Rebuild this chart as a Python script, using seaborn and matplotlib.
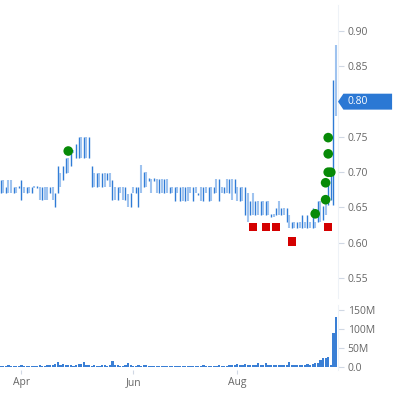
import numpy as np
import pandas as pd
import matplotlib
matplotlib.use("Agg")
import matplotlib.pyplot as plt
import matplotlib.transforms as mtransforms
from matplotlib.patches import Polygon
import seaborn as sns

# ---------------- data ----------------
lows = [0.671, 0.671, 0.671, 0.671, 0.671, 0.671, 0.671, 0.677, 0.661, 0.671,
        0.671, 0.671, 0.671, 0.677, 0.677, 0.661, 0.661, 0.661, 0.661, 0.671,
        0.661, 0.651, 0.671, 0.679, 0.689, 0.699, 0.699, 0.709, 0.727, 0.720,
        0.720, 0.720, 0.720, 0.720, 0.720, 0.679, 0.679, 0.679, 0.679, 0.679,
        0.679, 0.689, 0.679, 0.661, 0.661, 0.661, 0.671, 0.661, 0.661, 0.651,
        0.651, 0.671, 0.671, 0.651, 0.671, 0.679, 0.679, 0.688, 0.671, 0.688,
        0.671, 0.671, 0.671, 0.671, 0.671, 0.671, 0.671, 0.659, 0.671, 0.659,
        0.659, 0.659, 0.659, 0.671, 0.659, 0.671, 0.667, 0.659, 0.659, 0.671,
        0.659, 0.659, 0.671, 0.671, 0.659, 0.671, 0.671, 0.671, 0.671, 0.661,
        0.671, 0.659, 0.659, 0.659, 0.639, 0.630, 0.639, 0.639, 0.639, 0.639,
        0.639, 0.639, 0.639, 0.639, 0.637, 0.637, 0.639, 0.639, 0.639, 0.639,
        0.630, 0.621, 0.621, 0.621, 0.621, 0.621, 0.621, 0.621, 0.621, 0.621,
        0.621, 0.621, 0.630, 0.630, 0.632, 0.640, 0.654, 0.660, 0.654, 0.780]
highs = [0.689, 0.689, 0.679, 0.689, 0.689, 0.679, 0.679, 0.681, 0.689, 0.679,
         0.679, 0.679, 0.679, 0.681, 0.681, 0.679, 0.679, 0.679, 0.679, 0.679,
         0.679, 0.671, 0.709, 0.699, 0.709, 0.720, 0.720, 0.729, 0.731, 0.740,
         0.750, 0.750, 0.750, 0.750, 0.750, 0.709, 0.699, 0.699, 0.699, 0.699,
         0.699, 0.699, 0.699, 0.689, 0.679, 0.679, 0.679, 0.679, 0.679, 0.669,
         0.671, 0.679, 0.679, 0.679, 0.710, 0.700, 0.700, 0.692, 0.690, 0.692,
         0.690, 0.690, 0.690, 0.690, 0.690, 0.679, 0.679, 0.679, 0.679, 0.679,
         0.679, 0.679, 0.679, 0.679, 0.679, 0.679, 0.671, 0.679, 0.679, 0.679,
         0.679, 0.679, 0.679, 0.690, 0.690, 0.679, 0.679, 0.690, 0.690, 0.690,
         0.690, 0.679, 0.679, 0.679, 0.679, 0.671, 0.659, 0.671, 0.659, 0.659,
         0.659, 0.659, 0.659, 0.659, 0.641, 0.641, 0.649, 0.659, 0.649, 0.649,
         0.649, 0.639, 0.630, 0.630, 0.630, 0.630, 0.639, 0.630, 0.639, 0.630,
         0.649, 0.630, 0.659, 0.659, 0.652, 0.668, 0.682, 0.700, 0.830, 0.880]
up = [1, 0, 1, 0, 0, 1, 0, 1, 1, 0,
      1, 0, 1, 0, 1, 0, 1, 0, 0, 1,
      0, 1, 1, 0, 1, 1, 0, 1, 0, 1,
      1, 0, 1, 0, 1, 1, 0, 1, 0, 1,
      0, 1, 0, 1, 0, 1, 0, 0, 1, 0,
      1, 0, 1, 1, 0, 1, 0, 1, 0, 1,
      0, 1, 0, 1, 0, 1, 0, 1, 0, 1,
      0, 1, 0, 0, 1, 0, 1, 0, 1, 0,
      1, 0, 1, 0, 1, 0, 1, 0, 1, 0,
      1, 0, 1, 0, 1, 0, 1, 0, 1, 0,
      1, 0, 1, 0, 1, 0, 1, 0, 1, 0,
      1, 0, 1, 0, 1, 0, 1, 0, 1, 0,
      1, 0, 1, 0, 1, 0, 1, 1, 1, 0]
volume_m = [3, 2, 3, 4, 3, 2, 3, 3, 4, 3,
            2, 3, 3, 2, 3, 4, 3, 3, 5, 4,
            6, 9, 13, 5, 8, 6, 5, 4, 3, 5,
            7, 9, 13, 6, 4, 3, 4, 3, 3, 4,
            5, 3, 6, 15, 5, 4, 3, 3, 4, 10,
            4, 3, 3, 5, 3, 4, 4, 3, 3, 3,
            3, 2, 3, 3, 2, 3, 3, 2, 3, 3,
            2, 3, 3, 2, 3, 3, 2, 3, 4, 3,
            3, 3, 2, 3, 4, 3, 3, 3, 4, 5,
            5, 8, 5, 6, 7, 4, 5, 6, 5, 10,
            6, 5, 10, 4, 4, 5, 4, 5, 6, 4,
            5, 12, 5, 4, 4, 5, 6, 5, 7, 6,
            8, 10, 10, 18, 24, 23, 25, 6, 89, 131]
last_price = 0.80

buy_days = [26, 121, 125, 125, 126, 127, 126, 126]
buy_prices = [0.730, 0.641, 0.661, 0.685, 0.700, 0.700, 0.726, 0.749]
sell_days = [97, 102, 106, 112, 126]
sell_prices = [0.622, 0.622, 0.622, 0.602, 0.622]

month_days = [8, 51, 91]
month_labels = ["Apr", "Jun", "Aug"]
price_ticks = [0.55, 0.60, 0.65, 0.70, 0.75, 0.80, 0.85, 0.90]
vol_ticks = [0, 50, 100, 150]
vol_labels = ["0.0", "50M", "100M", "150M"]

days = np.arange(len(lows))
df = pd.DataFrame({"day": days, "low": lows, "high": highs, "up": up, "vol": volume_m})

# ---------------- styling ----------------
sns.set_theme(style="white")
plt.rcParams["font.family"] = ["Open Sans", "DejaVu Sans"]
LIGHT = "#9fc3ef"
DARK = "#2f7bd6"
TXT = "#666666"
TICKC = "#d0d8e4"

fig = plt.figure(figsize=(3.97, 3.93), dpi=100)
ax = fig.add_axes([0.0, 0.2417, 0.8514, 0.7455])
axv = fig.add_axes([0.0, 0.0585, 0.8514, 0.1654], sharex=ax)

# price bars (high-low)
cols = [DARK if u else LIGHT for u in df["up"]]
widths = [1.0 if u else 1.5 for u in df["up"]]
ax.vlines(df["day"], df["low"], df["high"], colors=cols, linewidths=widths)

sns.scatterplot(x=buy_days, y=buy_prices, ax=ax, color="#078a07", marker="o",
                s=48, edgecolor="none", zorder=5, legend=False)
sns.scatterplot(x=sell_days, y=sell_prices, ax=ax, color="#d40000", marker="s",
                s=38, edgecolor="none", zorder=5, legend=False)

ax.set_xlim(-0.25, 129.77)
ax.set_ylim(0.5216, 0.937)
ax.yaxis.tick_right()
ax.set_yticks(price_ticks)
ax.set_yticklabels([f"{v:.2f}" for v in price_ticks])
ax.tick_params(axis="y", right=True, length=4, width=0.8, color=TICKC,
               labelsize=7.5, labelcolor=TXT, pad=3)
ax.tick_params(axis="x", bottom=False, labelbottom=False)
for s in ["top", "left", "bottom"]:
    ax.spines[s].set_visible(False)
ax.spines["right"].set_color("#eef2f7")
ax.spines["right"].set_linewidth(0.8)
ax.set_xlabel("")
ax.set_ylabel("")

# last price tag
trans = mtransforms.blended_transform_factory(ax.transAxes, ax.transData)
h = 0.0113
tag = Polygon([(1.0, last_price), (1.016, last_price + h), (1.16, last_price + h),
               (1.16, last_price - h), (1.016, last_price - h)],
              closed=True, transform=trans, facecolor="#2b78d4", edgecolor="none",
              clip_on=False, zorder=6)
ax.add_patch(tag)
ax.text(1.027, last_price, f"{last_price:.2f}", transform=trans, color="white",
        fontsize=7.5, va="center", ha="left", zorder=7, clip_on=False)

# volume
axv.bar(df["day"], df["vol"], width=0.85, color="#3a7fd5", linewidth=0)
axv.set_ylim(-7.9, 163)
axv.yaxis.tick_right()
axv.set_yticks(vol_ticks)
axv.set_yticklabels(vol_labels)
axv.tick_params(axis="y", right=True, length=4, width=0.8, color=TICKC,
                labelsize=7.5, labelcolor=TXT, pad=3)
axv.set_xticks(month_days)
axv.set_xticklabels(month_labels)
axv.tick_params(axis="x", bottom=True, length=3, width=0.8, color=TICKC,
                labelsize=7.5, labelcolor=TXT, pad=2)
for s in ["top", "left", "bottom"]:
    axv.spines[s].set_visible(False)
axv.spines["right"].set_color("#eef2f7")
axv.spines["right"].set_linewidth(0.8)
axv.set_xlabel("")
axv.set_ylabel("")

fig.savefig("out.png", dpi=100)
